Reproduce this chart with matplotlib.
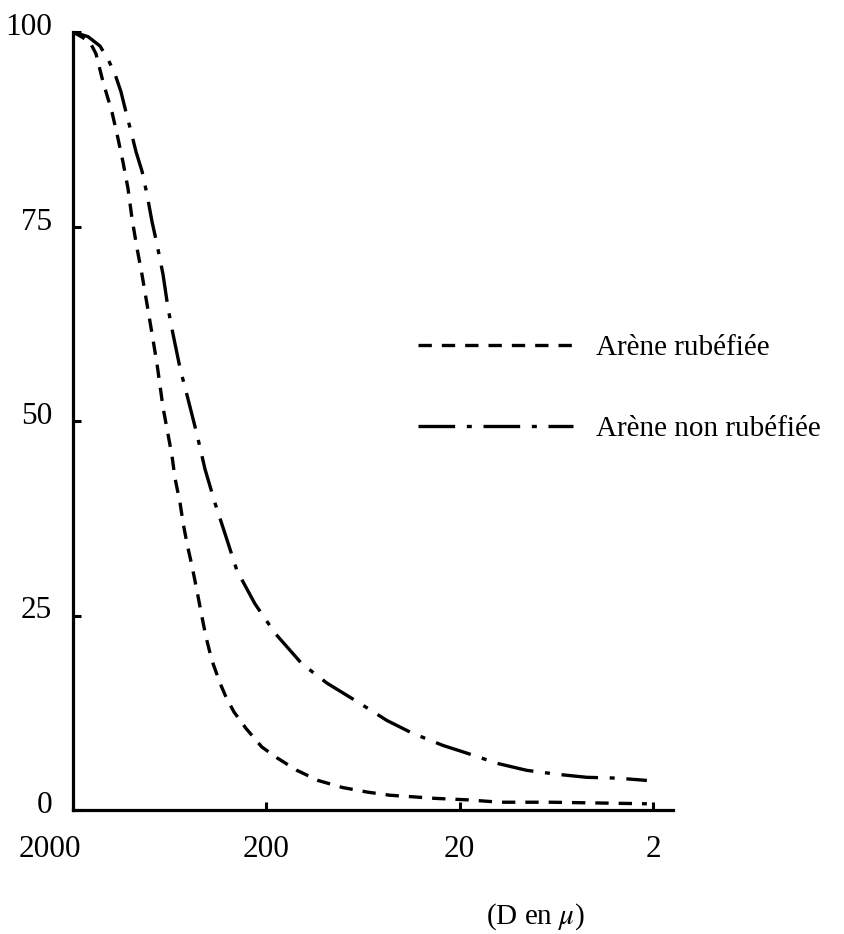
import matplotlib
matplotlib.use("Agg")
from matplotlib import pyplot as plt
from matplotlib.transforms import ScaledTranslation

plt.rcParams['font.family'] = ['Liberation Serif', 'DejaVu Serif']
plt.rcParams['mathtext.fontset'] = 'stix'

# Arène rubéfiée (tirets courts) : diamètre D en microns, pourcentage cumulé
D_rub = [2000, 1840, 1634, 1521, 1399, 1257, 1170, 1103, 1039, 990, 933, 879,
         828, 780, 735, 684, 645, 615, 593, 559, 539, 514, 485, 457, 435, 410,
         382, 347, 323, 294, 255, 211, 176, 139, 108, 81, 60, 46, 35, 27, 18,
         12.4, 6.8, 3.8, 2.15]
P_rub = [100, 99.5, 98.7, 97.2, 93.6, 89.7, 86.3, 83.3, 79.9, 76.0, 72.2, 68.8,
         65.0, 61.2, 57.3, 51.7, 48.3, 45.5, 42.6, 39.5, 36.9, 34.2, 31.4, 28.2,
         25.4, 22.2, 19.2, 16.3, 14.5, 12.6, 10.5, 8.1, 6.7, 5.1, 3.8, 2.9, 2.3,
         1.9, 1.7, 1.5, 1.3, 1.0, 1.0, 0.9, 0.8]

# Arène non rubéfiée (tiret - point)
D_non = [2000, 1672, 1450, 1318, 1213, 1129, 1064, 1002, 944, 879, 828, 780,
         735, 684, 645, 608, 559, 508, 457, 415, 368, 327, 284, 229, 180,
         131, 97, 65.5, 47.5, 35.3, 24.4, 18.3, 12.8, 9.0, 6.3, 4.4, 3.07, 2.15]
P_non = [100, 99.4, 98.2, 96.5, 94.6, 92.3, 89.7, 87.2, 84.6, 82.1, 79.1, 75.6,
         72.7, 68.8, 64.5, 61.2, 56.8, 52.8, 48.3, 43.8, 39.4, 35.5, 30.8,
         26.5, 22.7, 18.8, 16.3, 13.7, 11.5, 9.9, 8.3, 7.3, 6.0, 5.1, 4.6, 4.2,
         4.1, 3.8]

xticks = [2000, 200, 20, 2]
xlabels = ['2000', '200', '20', '2']
yticks = [0, 25, 50, 75, 100]
ylabels = ['0', '25', '50', '75', '100']

fig = plt.figure(figsize=(8.44, 9.34), dpi=100)
ax = fig.add_axes([73/844, 1 - 810/934, 600/844, (810 - 32)/934])

ax.plot(D_rub, P_rub, color='black', lw=2.4, linestyle=(0, (4, 3)),
        solid_joinstyle='round', label='Arène rubéfiée')
ax.plot(D_non, P_non, color='black', lw=2.4, linestyle=(0, (11, 3.5, 1.5, 3.5)),
        solid_joinstyle='round', label='Arène non rubéfiée')

ax.set_xscale('log')
ax.set_xlim(2000, 1.575)
ax.set_ylim(0, 100)
ax.minorticks_off()

ax.set_xticks(xticks)
ax.set_xticklabels(xlabels)
ax.set_yticks(yticks)
ax.set_yticklabels(ylabels)

for s in ['top', 'right']:
    ax.spines[s].set_visible(False)
for s in ['left', 'bottom']:
    ax.spines[s].set_linewidth(2.3)

ax.tick_params(axis='both', direction='in', length=6, width=2.2, labelsize=22.5)
ax.tick_params(axis='x', pad=18)
ax.tick_params(axis='y', pad=15)

# décalages des étiquettes comme sur l'original
for lab in ax.get_yticklabels():
    lab.set_transform(lab.get_transform() + ScaledTranslation(0, 0.08, fig.dpi_scale_trans))
first = ax.get_xticklabels()[0]
first.set_transform(first.get_transform() + ScaledTranslation(-0.23, 0, fig.dpi_scale_trans))

fig.legend(loc='upper left', bbox_to_anchor=(418/844, 1 - 335/934), frameon=False,
           fontsize=21, handlelength=5.3, handletextpad=0.8, labelspacing=1.85,
           borderpad=0, borderaxespad=0)

fig.text(535/844, 1 - 917/934, r'(D en $\mu$)', ha='center', va='center', fontsize=21)

fig.savefig('out.png', dpi=100)
